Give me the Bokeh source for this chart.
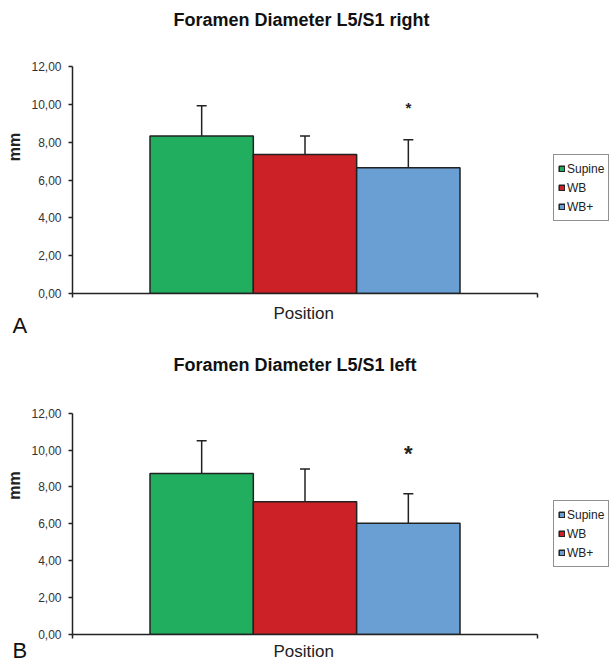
from bokeh.plotting import figure
from bokeh.models import (ColumnDataSource, Range1d, FixedTicker, Whisker, TeeHead,
                          Legend, LegendItem, Title, Label, CustomJSTickFormatter)
from bokeh.layouts import column
from bokeh.embed import file_html
from bokeh.resources import INLINE
from bokeh.core.properties import value

# ---------------- data ----------------
categories = ["Supine", "WB", "WB+"]
colors = ["#22AE5F", "#CC2127", "#6A9FD4"]

right_title = "Foramen Diameter L5/S1 right"
right_mean = [8.32, 7.35, 6.65]
right_sd = [1.61, 0.97, 1.48]
right_legend_swatch = [0, 1, 2]
right_sig_y = [9.86]

left_title = "Foramen Diameter L5/S1 left"
left_mean = [8.73, 7.20, 6.04]
left_sd = [1.78, 1.78, 1.60]
left_legend_swatch = [2, 1, 2]   # the original legend shows a blue swatch for Supine
left_sig_y = [9.95]

sig_index = [2]
sig_text = ["*"]

y_ticks = [0, 2, 4, 6, 8, 10, 12]
y_tick_labels = ["0,00", "2,00", "4,00", "6,00", "8,00", "10,00", "12,00"]
x_axis_label = "Position"
y_axis_label = "mm"
panel_letters = ["A", "B"]

# ---------------- style / layout ----------------
FONT = "Liberation Sans"
INK = "#222222"
X_PAD = 0.75
X_START = -0.5 - X_PAD
X_END = len(categories) - 0.5 + X_PAD
W = 612
LEFT = 72          # px of left border (y axis panel)
AXIS_W = 465       # px length of the drawn x axis
Y_MIN, Y_MAX = y_ticks[0], y_ticks[-1]


def make_panel(title, means, sds, swatch, sig_y, letter, height, frame_h, axis_h,
               title_dy, star_size, star_off, legend_y, xlabel_standoff,
               letter_standoff):
    frame_w = W - LEFT
    x_view_end = X_START + (X_END - X_START) * frame_w / AXIS_W
    y_view_end = Y_MIN + (Y_MAX - Y_MIN) * frame_h / axis_h
    p = figure(width=W, height=height, title=None,
               x_range=Range1d(X_START, x_view_end), y_range=Range1d(Y_MIN, y_view_end),
               output_backend="svg", toolbar_location=None,
               min_border_left=LEFT, min_border_right=0,
               min_border_top=0, min_border_bottom=height - frame_h,
               background_fill_color="white", border_fill_color="white",
               outline_line_color=None)
    p.xgrid.visible = False
    p.ygrid.visible = False

    src = ColumnDataSource(dict(
        x=list(range(len(categories))),
        mean=means,
        upper=[m + s for m, s in zip(means, sds)],
        color=colors,
        cat=categories,
    ))
    r = p.vbar(x="x", top="mean", bottom=0, width=1.0, source=src,
               fill_color="color", line_color=INK, line_width=1.5)

    p.add_layout(Whisker(source=src, base="x", lower="mean", upper="upper",
                         line_color=INK, line_width=1.5, lower_head=None,
                         upper_head=TeeHead(size=10, line_color=INK, line_width=1.5)))

    p.text(x=sig_index, y=sig_y, text=sig_text, text_align="center",
           text_baseline="middle", text_font=value(FONT), text_font_size=star_size,
           text_font_style="bold", text_color=INK, y_offset=star_off)

    # y axis
    ya = p.yaxis[0]
    ya.bounds = (Y_MIN, Y_MAX)
    ya.ticker = FixedTicker(ticks=y_ticks)
    ya.major_label_overrides = {t: l for t, l in zip(y_ticks, y_tick_labels)}
    ya.axis_label = y_axis_label
    ya.axis_label_text_font = FONT
    ya.axis_label_text_font_size = "16px"
    ya.axis_label_text_font_style = "bold"
    ya.axis_label_text_color = INK
    ya.axis_label_standoff = 5
    ya.major_label_text_font = FONT
    ya.major_label_text_font_size = "12px"
    ya.major_label_text_color = "#333333"
    ya.major_label_standoff = 7
    ya.major_tick_out = 4
    ya.major_tick_in = 0
    ya.minor_tick_line_color = None
    ya.axis_line_width = 1.5
    ya.axis_line_color = INK
    ya.major_tick_line_width = 1.5
    ya.major_tick_line_color = INK

    # x axis (ticks only at the two ends of the category axis)
    xa = p.xaxis[0]
    xa.bounds = (X_START, X_END)
    xa.ticker = FixedTicker(ticks=[X_START, X_END])
    xa.formatter = CustomJSTickFormatter(code="return '';")
    xa.major_label_standoff = 0
    xa.major_tick_out = 4
    xa.major_tick_in = 0
    xa.minor_tick_line_color = None
    xa.axis_line_width = 1.5
    xa.axis_line_color = INK
    xa.major_tick_line_width = 1.5
    xa.major_tick_line_color = INK

    # x axis title, centred under the drawn axis (not the wider frame)
    p.add_layout(Title(text=x_axis_label, align="left", offset=201,
                       standoff=xlabel_standoff, vertical_align="top",
                       text_font=FONT, text_font_size="17px", text_font_style="normal",
                       text_color=INK), "below")

    items = [LegendItem(label=categories[i], renderers=[r], index=swatch[i])
             for i in range(len(categories))]
    legend = Legend(items=items, location=(481, legend_y),
                    glyph_width=7, glyph_height=7, label_height=19,
                    label_standoff=2, spacing=0, padding=4, margin=0,
                    border_line_color=INK, border_line_width=1.5,
                    label_text_font=FONT, label_text_font_size="12px",
                    label_text_color=INK,
                    background_fill_color="white", background_fill_alpha=1.0)
    p.add_layout(legend)

    p.add_layout(Label(x=101, y=frame_h - title_dy, x_units="screen", y_units="screen",
                       text=title, text_font=FONT, text_font_size="18px",
                       text_font_style="bold", text_color="#111111",
                       text_align="left", text_baseline="middle"))

    p.add_layout(Title(text=letter, align="left", offset=-60, standoff=letter_standoff,
                       vertical_align="top", text_font=FONT, text_font_size="22px",
                       text_font_style="normal", text_color="#111111"), "below")
    return p


top = make_panel(right_title, right_mean, right_sd, right_legend_swatch, right_sig_y,
                 panel_letters[0], height=336, frame_h=293, axis_h=227, title_dy=19,
                 star_size="15px", star_off=1, legend_y=72, xlabel_standoff=12,
                 letter_standoff=-36)
bottom = make_panel(left_title, left_mean, left_sd, left_legend_swatch, left_sig_y,
                    panel_letters[1], height=329, frame_h=299, axis_h=222, title_dy=29,
                    star_size="22px", star_off=2, legend_y=67, xlabel_standoff=6,
                    letter_standoff=-55)

layout = column(top, bottom)
open("out.html", "w").write(file_html(layout, INLINE))
